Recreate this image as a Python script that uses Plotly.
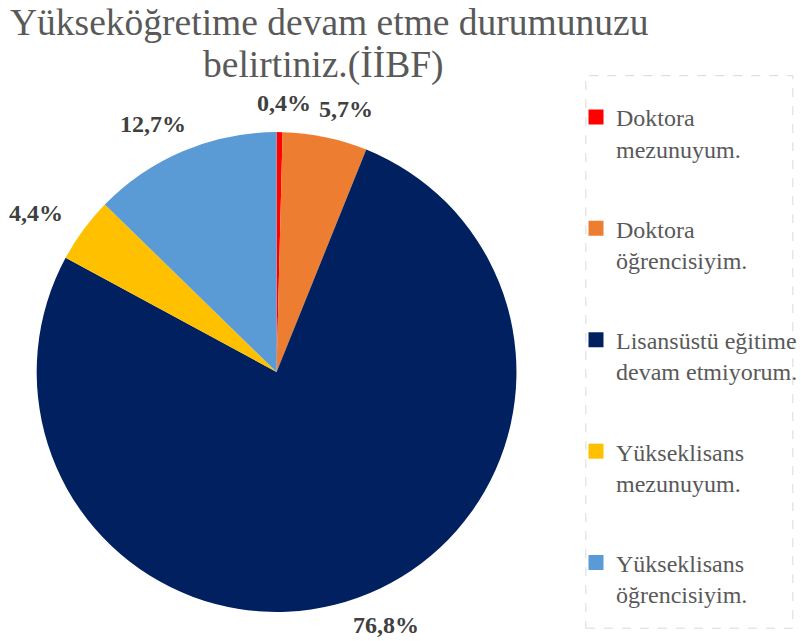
import numpy as np
import plotly.graph_objects as go

categories = [
    "Doktora mezunuyum.",
    "Doktora öğrencisiyim.",
    "Lisansüstü eğitime devam etmiyorum.",
    "Yükseklisans mezunuyum.",
    "Yükseklisans öğrencisiyim.",
]
legend_lines = [
    ["Doktora", "mezunuyum."],
    ["Doktora", "öğrencisiyim."],
    ["Lisansüstü eğitime", "devam etmiyorum."],
    ["Yükseklisans", "mezunuyum."],
    ["Yükseklisans", "öğrencisiyim."],
]
values = [0.4, 5.7, 76.8, 4.4, 12.7]
colors = ["#FF0000", "#ED7D31", "#002060", "#FFC000", "#5B9BD5"]
title_lines = ["Yükseköğretime devam etme durumunuzu", "belirtiniz.(İİBF)"]

SERIF = "Liberation Serif"
W, H = 803, 641

# pie geometry (pixels) -> paper domain
CX, CY, R = 279, 372, 242
dom_x = [(CX - R) / W, (CX + R) / W]
dom_y = [(H - CY - R) / H, (H - CY + R) / H]

texts = [f"{v:.1f}%".replace(".", ",") for v in values]

fig = go.Figure()
fig.add_trace(
    go.Pie(
        labels=categories,
        values=values,
        textinfo="none",
        marker=dict(colors=colors, line=dict(width=0)),
        sort=False,
        direction="clockwise",
        rotation=0,
        hoverinfo="label+percent",
        showlegend=False,
        domain=dict(x=dom_x, y=dom_y),
    )
)

# legend entries (one group each so the gap between them can be set)
for lines, c in zip(legend_lines, colors):
    fig.add_trace(
        go.Scatter(
            x=[None],
            y=[None],
            mode="markers",
            marker=dict(symbol="square", size=15, color=c),
            name="<br>".join(lines),
            legendgroup=lines[0] + lines[1],
            hoverinfo="skip",
        )
    )

# data labels outside each slice, at the slice mid angle
vals = np.array(values)
mids = (np.cumsum(vals) - vals / 2) / vals.sum() * 2 * np.pi
for t, th in zip(texts, mids):
    s, c = np.sin(th), np.cos(th)
    ax_px = CX + (R + 15) * s + 40 * np.sign(s) * np.sqrt(abs(s))
    ay_px = CY - (R + 15) * c - 12 * c
    fig.add_annotation(
        x=ax_px / W,
        y=1 - ay_px / H,
        xref="paper",
        yref="paper",
        text=f"<b>{t}</b>",
        showarrow=False,
        xanchor="center",
        yanchor="middle",
        font=dict(family=SERIF, size=24, color="#404040"),
    )

# second title line kept tight under the first one
fig.add_annotation(
    x=0.407,
    y=0.899,
    xref="paper",
    yref="paper",
    text=title_lines[1],
    showarrow=False,
    xanchor="center",
    yanchor="middle",
    font=dict(family=SERIF, size=37.5, color="#595959"),
)

fig.add_shape(
    type="rect",
    xref="paper",
    yref="paper",
    x0=0.736,
    x1=0.996,
    y0=0.02,
    y1=0.882,
    line=dict(color="#D9D9D9", width=1, dash="dash"),
    fillcolor="rgba(0,0,0,0)",
)

fig.update_layout(
    width=W,
    height=H,
    margin=dict(l=0, r=0, t=0, b=0),
    paper_bgcolor="white",
    plot_bgcolor="white",
    xaxis=dict(visible=False),
    yaxis=dict(visible=False),
    title=dict(
        text=title_lines[0],
        x=0.41,
        xanchor="center",
        y=0.987,
        yanchor="top",
        font=dict(family=SERIF, size=37.5, color="#595959"),
    ),
    legend=dict(
        x=0.724,
        xanchor="left",
        y=0.852,
        yanchor="top",
        valign="top",
        font=dict(family=SERIF, size=24, color="#595959"),
        bgcolor="rgba(0,0,0,0)",
        itemwidth=30,
        tracegroupgap=46,
    ),
)

fig.write_html(
    "out.html",
    config=dict(displayModeBar=False),
    post_script="document.body.style.margin='0px';",
)
